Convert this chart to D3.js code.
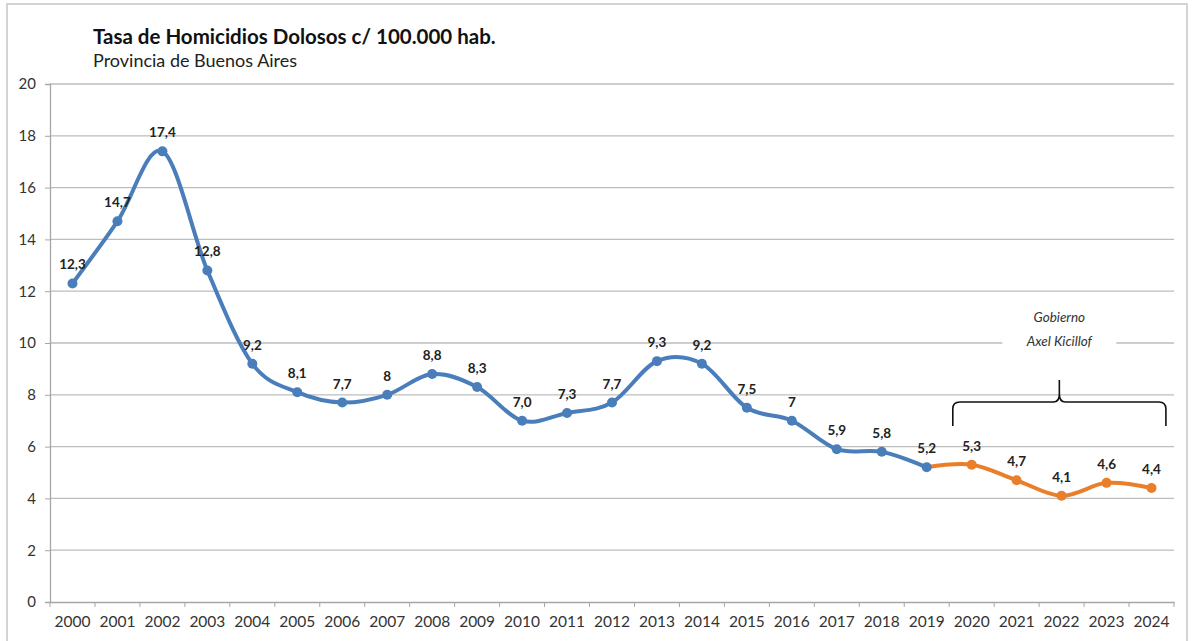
<!DOCTYPE html>
<html lang="es">
<head>
    <meta charset="UTF-8">
    <title>Tasa de Homicidios Dolosos</title>
    <script src="https://cdn.jsdelivr.net/npm/d3@7"></script>
    <style>
        body {
            margin: 0;
            padding: 0;
            background: #fff;
        }
        text {
            font-family: Lato, "Open Sans", sans-serif;
        }
    </style>
</head>
<body>
<svg width="1194" height="641" id="mainsvg"></svg>
<script>
    const years = ["2000", "2001", "2002", "2003", "2004", "2005", "2006", "2007", "2008", "2009",
        "2010", "2011", "2012", "2013", "2014", "2015", "2016", "2017", "2018", "2019",
        "2020", "2021", "2022", "2023", "2024"];
    const rates = [12.3, 14.7, 17.4, 12.8, 9.2, 8.1, 7.7, 8, 8.8, 8.3,
        7.0, 7.3, 7.7, 9.3, 9.2, 7.5, 7, 5.9, 5.8, 5.2,
        5.3, 4.7, 4.1, 4.6, 4.4];
    const rateLabels = ["12,3", "14,7", "17,4", "12,8", "9,2", "8,1", "7,7", "8", "8,8", "8,3",
        "7,0", "7,3", "7,7", "9,3", "9,2", "7,5", "7", "5,9", "5,8", "5,2",
        "5,3", "4,7", "4,1", "4,6", "4,4"];
    const yTicks = [0, 2, 4, 6, 8, 10, 12, 14, 16, 18, 20];
    const kicillofStart = "2019";   // orange series starts here (line only)

    const svg = d3.select("#mainsvg");
    const blue = "#4a7ebb";
    const orange = "#e97f2a";

    // outer frame
    svg.append("rect")
        .attr("x", 7).attr("y", 4)
        .attr("width", 1180).attr("height", 645)
        .attr("fill", "none")
        .attr("stroke", "#d4d4d4")
        .attr("stroke-width", 2);

    const x = d3.scaleBand().domain(years).range([50, 1174]);
    const y = d3.scaleLinear().domain([0, 20]).range([602, 84]);
    const cx = d => x(d) + x.bandwidth() / 2;

    // gridlines
    svg.append("g")
        .selectAll("line")
        .data(yTicks.filter(d => d > 0))
        .join("line")
        .attr("x1", 50).attr("x2", 1174)
        .attr("y1", d => y(d)).attr("y2", d => y(d))
        .attr("stroke", "#bdbdbd")
        .attr("stroke-width", 1.3);

    // y axis
    const yAxis = svg.append("g")
        .attr("transform", "translate(50,0)")
        .call(d3.axisLeft(y).tickValues(yTicks).tickSize(5).tickPadding(9));
    yAxis.select(".domain").attr("stroke", "#a6a6a6").attr("stroke-width", 1.3);
    yAxis.selectAll(".tick line").attr("stroke", "#a6a6a6");
    yAxis.selectAll(".tick text")
        .attr("font-size", 15)
        .attr("fill", "#333")
        .style("font-family", "Lato, sans-serif");

    // x axis (ticks between categories, like Excel)
    const xAxis = svg.append("g")
        .attr("transform", "translate(0,602)")
        .call(d3.axisBottom(x).tickSize(0).tickPadding(14));
    xAxis.select(".domain").attr("stroke", "#a6a6a6").attr("stroke-width", 1.3);
    xAxis.selectAll(".tick text")
        .attr("font-size", 15.5)
        .attr("fill", "#333")
        .style("font-family", "Lato, sans-serif");
    xAxis.selectAll(".sep")
        .data(years.concat(["end"]))
        .join("line")
        .attr("class", "sep")
        .attr("x1", (d, i) => 50 + i * x.step())
        .attr("x2", (d, i) => 50 + i * x.step())
        .attr("y1", 0).attr("y2", 5)
        .attr("stroke", "#a6a6a6");

    const points = years.map((yr, i) => ({year: yr, value: rates[i], label: rateLabels[i]}));
    const splitIdx = years.indexOf(kicillofStart);
    const bluePts = points.slice(0, splitIdx + 1);
    const orangePts = points.slice(splitIdx);

    const line = d3.line()
        .x(d => cx(d.year))
        .y(d => y(d.value))
        .curve(d3.curveCatmullRom.alpha(0));

    svg.append("path")
        .datum(orangePts)
        .attr("d", line)
        .attr("fill", "none")
        .attr("stroke", orange)
        .attr("stroke-width", 4)
        .attr("stroke-linejoin", "round");

    svg.append("path")
        .datum(bluePts)
        .attr("d", line)
        .attr("fill", "none")
        .attr("stroke", blue)
        .attr("stroke-width", 4)
        .attr("stroke-linejoin", "round");

    svg.append("g")
        .selectAll("circle")
        .data(points)
        .join("circle")
        .attr("cx", d => cx(d.year))
        .attr("cy", d => y(d.value))
        .attr("r", 5)
        .attr("fill", (d, i) => i > splitIdx ? orange : blue);

    svg.append("g")
        .selectAll("text")
        .data(points)
        .join("text")
        .attr("x", d => cx(d.year))
        .attr("y", d => y(d.value) - 14)
        .attr("text-anchor", "middle")
        .attr("font-size", 13.5)
        .attr("font-weight", "bold")
        .attr("fill", "#222")
        .text(d => d.label);

    // annotation: government brace
    const bx0 = cx("2020") - x.bandwidth() * 0.42;
    const bx1 = cx("2024") + x.bandwidth() * 0.32;
    const bm = (bx0 + bx1) / 2;
    const by = 402;
    svg.append("path")
        .attr("d", `M${bx0},${by + 24} L${bx0},${by + 7} Q${bx0},${by} ${bx0 + 7},${by}
                    L${bm - 6},${by} Q${bm},${by} ${bm},${by - 8} L${bm},${by - 22}
                    M${bm},${by - 8} Q${bm},${by} ${bm + 6},${by}
                    L${bx1 - 7},${by} Q${bx1},${by} ${bx1},${by + 7} L${bx1},${by + 24}`)
        .attr("fill", "none")
        .attr("stroke", "#111")
        .attr("stroke-width", 1.6);

    svg.append("rect")
        .attr("x", bm - 57).attr("y", y(10) - 10)
        .attr("width", 114).attr("height", 16)
        .attr("fill", "#fff");

    const note = svg.append("g")
        .attr("font-size", 13.5)
        .attr("font-style", "italic")
        .attr("fill", "#333")
        .attr("text-anchor", "middle");
    note.append("text").attr("x", bm).attr("y", 322).text("Gobierno");
    note.append("text").attr("x", bm).attr("y", 346).text("Axel Kicillof");

    // titles
    svg.append("text")
        .attr("x", 93).attr("y", 44)
        .attr("font-size", 20.5)
        .attr("font-weight", "bold")
        .attr("fill", "#111")
        .text("Tasa de Homicidios Dolosos c/ 100.000 hab.");
    svg.append("text")
        .attr("x", 93).attr("y", 67)
        .attr("font-size", 18)
        .attr("fill", "#222")
        .text("Provincia de Buenos Aires");
</script>
</body>
</html>
